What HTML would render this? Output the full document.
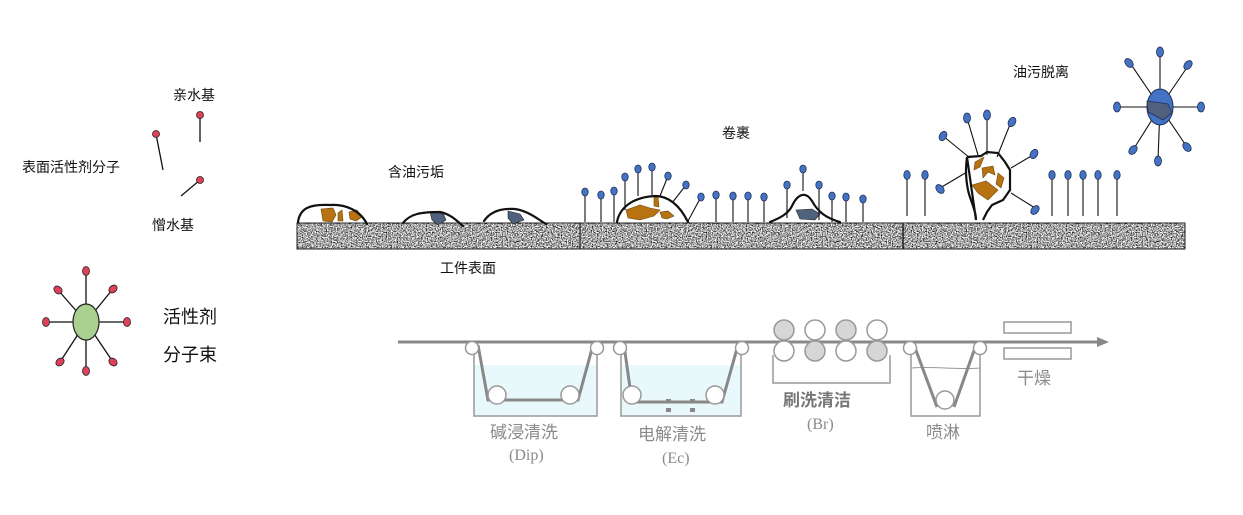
<!DOCTYPE html>
<html><head><meta charset="utf-8"><style>
html,body{margin:0;padding:0;background:#fff;width:1243px;height:515px;overflow:hidden}
svg text{font-family:"Liberation Sans","Noto Sans CJK SC",sans-serif}
</style></head><body>
<svg width="1243" height="515" viewBox="0 0 1243 515" xmlns="http://www.w3.org/2000/svg">
<defs>
<filter id="noise" x="0" y="0" width="100%" height="100%" color-interpolation-filters="sRGB">
<feTurbulence type="fractalNoise" baseFrequency="0.8" numOctaves="3" seed="3"/>
<feColorMatrix type="matrix" values="1.3 1.3 1.3 0 -1.3  1.3 1.3 1.3 0 -1.3  1.3 1.3 1.3 0 -1.3  0 0 0 0 1"/>
</filter>
</defs>
<g font-size="14" fill="#111">
<text x="173" y="100">亲水基</text>
<text x="22" y="172">表面活性剂分子</text>
<text x="152" y="230">憎水基</text>
</g>
<g stroke="#111" stroke-width="1.3">
<line x1="156" y1="134" x2="163" y2="170"/><line x1="200" y1="115" x2="200" y2="142"/><line x1="200" y1="180" x2="181" y2="196"/>
</g>
<g fill="#e0405a" stroke="#222" stroke-width="0.8">
<circle cx="156" cy="134" r="3.5"/><circle cx="200" cy="115" r="3.5"/><circle cx="200" cy="180" r="3.5"/>
</g>
<g stroke="#111" stroke-width="1.3">
<line x1="86" y1="322" x2="86" y2="272"/><line x1="86" y1="322" x2="86" y2="370"/><line x1="86" y1="322" x2="46" y2="322"/><line x1="86" y1="322" x2="127" y2="322"/>
<line x1="86" y1="322" x2="58" y2="290"/><line x1="86" y1="322" x2="112" y2="290"/><line x1="86" y1="322" x2="60" y2="362"/><line x1="86" y1="322" x2="113" y2="362"/>
</g>
<ellipse cx="86" cy="322" rx="13" ry="18" fill="#a9d08e" stroke="#222" stroke-width="1.2"/>
<g fill="#e0405a" stroke="#222" stroke-width="0.8">
<ellipse cx="86" cy="271" rx="3.5" ry="4.5"/><ellipse cx="86" cy="371" rx="3.5" ry="4.5"/><ellipse cx="46" cy="322" rx="3.5" ry="4.5"/><ellipse cx="127" cy="322" rx="3.5" ry="4.5"/>
<ellipse cx="58" cy="290" rx="4.5" ry="3.5" transform="rotate(40 58 290)"/><ellipse cx="113" cy="289" rx="4.5" ry="3.5" transform="rotate(-40 113 289)"/><ellipse cx="60" cy="362" rx="4.5" ry="3.5" transform="rotate(-40 60 362)"/><ellipse cx="113" cy="362" rx="4.5" ry="3.5" transform="rotate(40 113 362)"/>
</g>
<g font-size="18" fill="#111"><text x="163" y="323">活性剂</text><text x="163" y="361">分子束</text></g>

<rect x="297" y="223" width="888" height="26" fill="#b8b8b8"/>
<rect x="297" y="223" width="888" height="26" filter="url(#noise)"/>
<rect x="297" y="223" width="888" height="26" fill="none" stroke="#222" stroke-width="1"/>
<line x1="580" y1="223" x2="580" y2="249" stroke="#222" stroke-width="1.2"/>
<line x1="903" y1="223" x2="903" y2="249" stroke="#222" stroke-width="1.5"/>
<g font-size="14" fill="#111">
<text x="388" y="177">含油污垢</text><text x="440" y="273">工件表面</text><text x="722" y="138">卷裹</text><text x="1013" y="77">油污脱离</text>
</g>
<g fill="#b8720f" stroke="#6b4a10" stroke-width="0.6">
<polygon points="321,209 333,208 336,215 332,222 323,221"/><polygon points="338,213 342,210 343,221 338,221"/><polygon points="349,212 357,210 362,217 356,221 350,219"/>
</g>
<g fill="#4f617d" stroke="#222" stroke-width="0.6">
<path d="M430,212 L443,213 L446,220 L438,225 L432,220Z"/><path d="M508,211 L520,214 L524,220 L513,224 L508,218Z"/>
</g>
<g fill="none" stroke="#111" stroke-width="2.2" stroke-linecap="round">
<path d="M298,222 C300,208 310,204 330,205 C345,204 360,210 367,224"/>
<path d="M403,223 C410,214 420,212 440,212 C450,214 456,220 463,226"/>
<path d="M484,221 C490,212 500,208 515,209 C528,211 536,218 546,224"/>
</g>
<g fill="#b8720f" stroke="#6b4a10" stroke-width="0.6">
<polygon points="626,210 640,205 650,208 660,210 654,216 640,220 628,218"/><polygon points="654,197 658,197 659,207 654,206"/><polygon points="660,212 668,211 674,216 667,219 662,218"/>
</g>
<path d="M796,210 L812,209 L820,214 L815,220 L800,219Z" fill="#4f617d" stroke="#222" stroke-width="0.6"/>
<g fill="none" stroke="#111" stroke-width="2.2" stroke-linecap="round">
<path d="M617,222 C620,206 635,197 655,196 C672,196 682,210 688,222"/>
<path d="M770,222 C780,218 788,214 792,206 C797,195 805,190 812,201 C818,212 826,218 840,222"/>
</g>
<g stroke="#111" stroke-width="1.1">
<line x1="585" y1="192" x2="585" y2="222"/><line x1="601" y1="195" x2="601" y2="222"/><line x1="614" y1="192" x2="614" y2="222"/>
<line x1="625" y1="177" x2="625" y2="210"/><line x1="638" y1="169" x2="638" y2="196"/><line x1="652" y1="167" x2="652" y2="195"/>
<line x1="668" y1="176" x2="660" y2="196"/><line x1="686" y1="185" x2="672" y2="203"/><line x1="701" y1="197" x2="688" y2="221"/>
<line x1="716" y1="195" x2="716" y2="222"/><line x1="733" y1="196" x2="733" y2="222"/><line x1="748" y1="196" x2="748" y2="222"/><line x1="764" y1="197" x2="764" y2="222"/>
<line x1="787" y1="185" x2="787" y2="218"/><line x1="803" y1="169" x2="803" y2="191"/><line x1="819" y1="185" x2="819" y2="220"/>
<line x1="832" y1="196" x2="832" y2="222"/><line x1="846" y1="197" x2="846" y2="222"/><line x1="863" y1="199" x2="863" y2="222"/>
</g>
<g fill="#4472c4" stroke="#1f2f55" stroke-width="0.8">
<ellipse cx="585" cy="192" rx="3.2" ry="4"/><ellipse cx="601" cy="195" rx="3.2" ry="4"/><ellipse cx="614" cy="191" rx="3.2" ry="4"/>
<ellipse cx="625" cy="177" rx="3.2" ry="4"/><ellipse cx="638" cy="169" rx="3.2" ry="4"/><ellipse cx="652" cy="167" rx="3.2" ry="4"/>
<ellipse cx="668" cy="176" rx="3.2" ry="4"/><ellipse cx="686" cy="185" rx="3.2" ry="4"/><ellipse cx="701" cy="197" rx="3.2" ry="4"/>
<ellipse cx="716" cy="195" rx="3.2" ry="4"/><ellipse cx="733" cy="196" rx="3.2" ry="4"/><ellipse cx="748" cy="196" rx="3.2" ry="4"/><ellipse cx="764" cy="197" rx="3.2" ry="4"/>
<ellipse cx="787" cy="185" rx="3.2" ry="4"/><ellipse cx="803" cy="169" rx="3.2" ry="4"/><ellipse cx="819" cy="185" rx="3.2" ry="4"/>
<ellipse cx="832" cy="196" rx="3.2" ry="4"/><ellipse cx="846" cy="197" rx="3.2" ry="4"/><ellipse cx="863" cy="199" rx="3.2" ry="4"/>
</g>
<g stroke="#111" stroke-width="1.1">
<line x1="907" y1="176" x2="907" y2="216"/><line x1="925" y1="176" x2="925" y2="216"/>
<line x1="1052" y1="176" x2="1052" y2="216"/><line x1="1068" y1="176" x2="1068" y2="216"/><line x1="1083" y1="176" x2="1083" y2="216"/><line x1="1098" y1="176" x2="1098" y2="216"/><line x1="1117" y1="176" x2="1117" y2="216"/>
<line x1="943" y1="136" x2="970" y2="158"/><line x1="967" y1="118" x2="978" y2="155"/><line x1="987" y1="116" x2="987" y2="155"/><line x1="1011" y1="122" x2="997" y2="157"/>
<line x1="1033" y1="155" x2="1011" y2="168"/><line x1="1035" y1="208" x2="1011" y2="193"/><line x1="940" y1="188" x2="967" y2="172"/>
</g>
<g fill="#4472c4" stroke="#1f2f55" stroke-width="0.8">
<ellipse cx="907" cy="175" rx="3.2" ry="4.5"/><ellipse cx="925" cy="175" rx="3.2" ry="4.5"/>
<ellipse cx="1052" cy="175" rx="3.2" ry="4.5"/><ellipse cx="1068" cy="175" rx="3.2" ry="4.5"/><ellipse cx="1083" cy="175" rx="3.2" ry="4.5"/><ellipse cx="1098" cy="175" rx="3.2" ry="4.5"/><ellipse cx="1117" cy="175" rx="3.2" ry="4.5"/>
<ellipse cx="943" cy="136" rx="3.5" ry="5" transform="rotate(30 943 136)"/><ellipse cx="967" cy="118" rx="3.5" ry="5"/><ellipse cx="987" cy="115" rx="3.5" ry="5"/><ellipse cx="1012" cy="122" rx="3.5" ry="5" transform="rotate(30 1012 122)"/>
<ellipse cx="1034" cy="154" rx="3.5" ry="5" transform="rotate(30 1034 154)"/><ellipse cx="1035" cy="210" rx="3.5" ry="5" transform="rotate(40 1035 210)"/><ellipse cx="940" cy="189" rx="3.5" ry="5" transform="rotate(-40 940 189)"/>
</g>
<g fill="#b8720f" stroke="#6b4a10" stroke-width="0.6">
<polygon points="975,162 984,157 980,167 974,170"/><polygon points="982,168 993,166 995,175 988,172 983,178"/><polygon points="998,173 1004,178 1001,188 996,184"/><polygon points="972,185 986,181 998,190 988,200 978,193"/>
</g>
<path d="M967,157 L981,156 L987,152 L998,153 L1005,162 L1010,170 L1010,190 L1003,200 L992,205 L987,212 L983,220 M976,220 C976,210 970,200 968,190 C965,175 966,165 967,157Z" fill="none" stroke="#111" stroke-width="2.2"/>
<g stroke="#111" stroke-width="1.1">
<line x1="1160" y1="107" x2="1160" y2="53"/><line x1="1160" y1="107" x2="1130" y2="63"/><line x1="1160" y1="107" x2="1188" y2="66"/><line x1="1160" y1="107" x2="1118" y2="107"/>
<line x1="1160" y1="107" x2="1201" y2="107"/><line x1="1160" y1="107" x2="1133" y2="150"/><line x1="1160" y1="107" x2="1187" y2="147"/><line x1="1160" y1="107" x2="1158" y2="160"/>
</g>
<ellipse cx="1160" cy="107" rx="13" ry="18" fill="#4472c4" stroke="#1f2f55" stroke-width="1"/>
<path d="M1147,101 L1168,104 L1172,113 L1163,120 L1148,112Z" fill="#4f617d" stroke="#1f2f55" stroke-width="0.8"/>
<g fill="#4472c4" stroke="#1f2f55" stroke-width="0.8">
<ellipse cx="1160" cy="52" rx="3.5" ry="5"/><ellipse cx="1129" cy="63" rx="3.5" ry="5" transform="rotate(-40 1129 63)"/><ellipse cx="1188" cy="65" rx="3.5" ry="5" transform="rotate(40 1188 65)"/>
<ellipse cx="1117" cy="107" rx="3.5" ry="5"/><ellipse cx="1201" cy="107" rx="3.5" ry="5"/><ellipse cx="1133" cy="150" rx="3.5" ry="5" transform="rotate(40 1133 150)"/><ellipse cx="1187" cy="147" rx="3.5" ry="5" transform="rotate(-40 1187 147)"/><ellipse cx="1158" cy="161" rx="3.5" ry="5"/>
</g>

<g stroke="#999" fill="none">
<rect x="474" y="365" width="122" height="51" fill="#e8f8fb" stroke="none"/>
<rect x="621" y="365" width="120" height="51" fill="#e8f8fb" stroke="none"/>
<path d="M474,352 V416 H597 V352" stroke-width="1.5"/>
<path d="M621,352 V416 H741 V352" stroke-width="1.5"/>
<path d="M773,355 V383 H890 V355" stroke-width="1.5"/>
<path d="M911,352 V416 H980 V352" stroke-width="1.5"/>
<path d="M912,368 C930,366 960,370 980,368" stroke-width="1"/>
<path d="M398,342 H1100" stroke="#888" stroke-width="3"/>
<path d="M478,345 L488,400 H578 L593,345" stroke="#888" stroke-width="3"/>
<path d="M624,345 L632,402 H722 L738,345" stroke="#888" stroke-width="3"/>
<path d="M914,345 L937,407 M954,407 L976,345" stroke="#888" stroke-width="3"/>
</g>
<polygon points="1097,337 1109,342 1097,347" fill="#888"/>
<g fill="#fff" stroke="#999" stroke-width="1.5">
<circle cx="472" cy="348" r="6.5"/><circle cx="597" cy="348" r="6.5"/><circle cx="620" cy="348" r="6.5"/><circle cx="742" cy="348" r="6.5"/><circle cx="910" cy="348" r="6.5"/><circle cx="980" cy="348" r="6.5"/>
<circle cx="497" cy="395" r="9"/><circle cx="570" cy="395" r="9"/><circle cx="632" cy="395" r="9"/><circle cx="715" cy="395" r="9"/><circle cx="945" cy="400" r="9"/>
<circle cx="784" cy="330" r="10" fill="#d6d6d6"/><circle cx="815" cy="330" r="10"/><circle cx="846" cy="330" r="10" fill="#d6d6d6"/><circle cx="877" cy="330" r="10"/>
<circle cx="784" cy="351" r="10"/><circle cx="815" cy="351" r="10" fill="#d6d6d6"/><circle cx="846" cy="351" r="10"/><circle cx="877" cy="351" r="10" fill="#d6d6d6"/>
<rect x="1004" y="322" width="67" height="11"/><rect x="1004" y="348" width="67" height="11"/>
</g>
<g fill="#888"><rect x="666" y="399" width="5" height="4"/><rect x="690" y="399" width="5" height="4"/><rect x="666" y="408" width="5" height="4"/><rect x="690" y="408" width="5" height="4"/></g>
<g fill="#8a8a8a" font-size="17">
<text x="490" y="438">碱浸清洗</text><text x="638" y="440">电解清洗</text><text x="926" y="438">喷淋</text><text x="1017" y="384">干燥</text>
<text x="783" y="406" font-weight="bold" fill="#777">刷洗清洁</text>
</g>
<g fill="#8a8a8a" font-size="16">
<text x="509" y="460" style="font-family:'Liberation Serif',serif">(Dip)</text><text x="662" y="463" style="font-family:'Liberation Serif',serif">(Ec)</text><text x="807" y="429" style="font-family:'Liberation Serif',serif">(Br)</text>
</g>
</svg>
</body></html>
